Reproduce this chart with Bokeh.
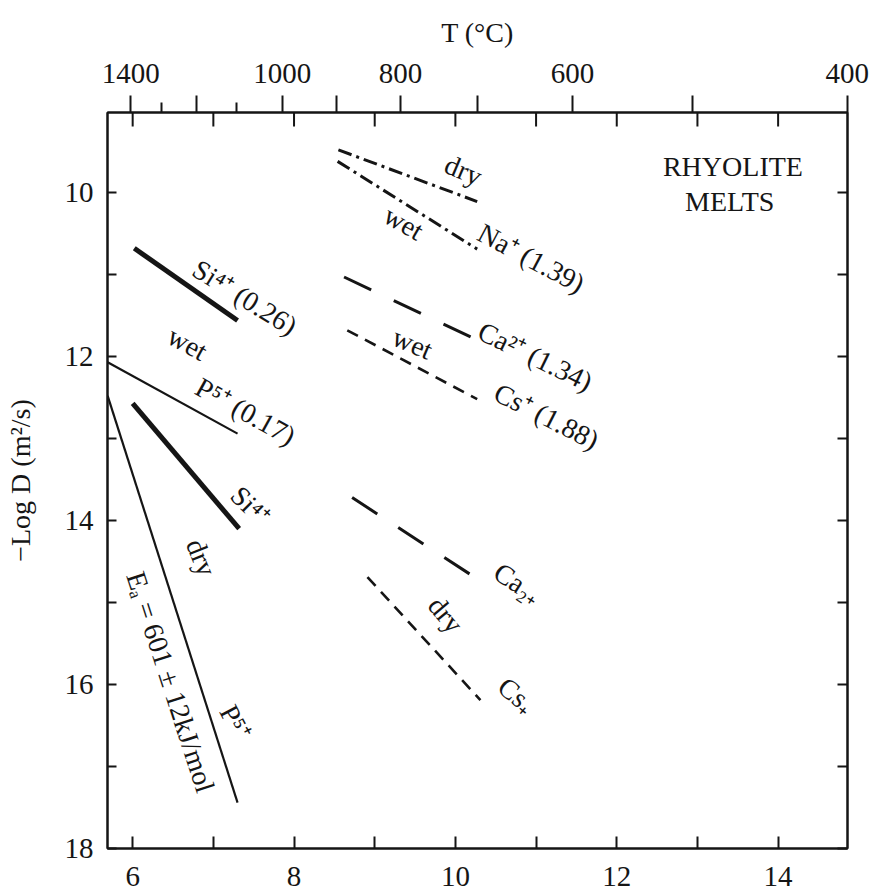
import numpy as np
from bokeh.plotting import figure
from bokeh.models import (Range1d, LinearAxis, FixedTicker, CustomJSTickFormatter,
                          ColumnDataSource, Arrow)
from bokeh.core.properties import value
from bokeh.embed import file_html
from bokeh.resources import INLINE

# ---- axis ticks ----
x_major = [6, 8, 10, 12, 14]          # 10^4/T (K)
x_minor = [7, 9, 11, 13]
x_top_inner = [6, 7, 8, 9, 10, 11, 12, 13, 14]
y_major = [10, 12, 14, 16, 18]        # -Log D (m^2/s)
y_minor = [11, 13, 15, 17]
T_labeled = [1400, 1000, 800, 600, 400]               # degC
T_long = [1400, 1200, 1000, 900, 800, 700, 600, 500, 400]
T_short = [1300, 1100]

# ---- Arrhenius lines (end points, x = 10^4/T, y = -log D) ----
si_wet_x = [6.02, 7.30]; si_wet_y = [10.68, 11.56]
p_wet_x = [5.69, 7.30];  p_wet_y = [12.07, 12.94]
si_dry_x = [6.00, 7.32]; si_dry_y = [12.57, 14.10]
p_dry_x = [5.69, 7.30];  p_dry_y = [12.48, 17.44]
na_dry_x = [8.55, 10.27]; na_dry_y = [9.48, 10.11]
na_wet_x = [8.54, 10.27]; na_wet_y = [9.62, 10.69]
ca_wet_x = [8.62, 10.23]; ca_wet_y = [11.03, 11.78]
cs_wet_x = [8.66, 10.27]; cs_wet_y = [11.68, 12.52]
ca_dry_x = [8.72, 10.33]; ca_dry_y = [13.72, 14.75]
cs_dry_x = [8.91, 10.31]; cs_dry_y = [14.69, 16.19]

# ---- labels ----
label_text = ["dry", "wet", "Na⁺ (1.39)", "Ca²⁺ (1.34)", "wet", "Cs⁺ (1.88)",
              "Si⁴⁺ (0.26)", "wet", "P⁵⁺ (0.17)", "Si⁴⁺", "dry",
              "Eₐ = 601 ± 12kJ/mol", "P⁵⁺", "Ca₂₊", "dry", "Cs₊",
              "RHYOLITE", "MELTS"]
label_x = [10.10, 9.36, 10.94, 10.99, 9.47, 11.13,
           7.39, 6.68, 7.40, 7.46, 6.85,
           6.47, 7.27, 10.77, 9.88, 10.76,
           13.44, 13.40]
label_y = [9.73, 10.37, 10.80, 12.00, 11.84, 12.73,
           11.28, 11.84, 12.67, 13.82, 14.45,
           15.97, 16.46, 14.76, 15.15, 16.13,
           9.68, 10.11]
label_deg = [-23, -30, -28, -26, -23, -27,
             -32, -29, -29, -45, -68,
             -72, -62, -33, -50, -40,
             0, 0]

FONT = "Liberation Serif"
INK = "#151515"

X0, X1 = 5.688, 14.86
Y_BOTTOM, Y_TOP = 18.0, 9.024
W, H = 874, 893
B_LEFT, B_RIGHT, B_TOP, B_BOTTOM = 107, 27, 112, 45

def xT(T):
    return 1e4 / (np.asarray(T, dtype=float) + 273.15)

p = figure(width=W, height=H, output_backend="svg", toolbar_location=None,
           x_range=Range1d(X0, X1), y_range=Range1d(Y_BOTTOM, Y_TOP),
           min_border_left=B_LEFT, min_border_right=B_RIGHT, min_border_top=B_TOP,
           min_border_bottom=B_BOTTOM)
p.background_fill_color = "white"
p.border_fill_color = "white"
p.outline_line_color = INK
p.outline_line_width = 2
p.xgrid.visible = False
p.ygrid.visible = False

def style_axis(ax):
    ax.axis_line_color = INK
    ax.axis_line_width = 2
    ax.major_tick_line_color = INK
    ax.minor_tick_line_color = INK
    ax.major_tick_line_width = 2
    ax.minor_tick_line_width = 2
    ax.major_label_text_font = FONT
    ax.major_label_text_font_size = "29px"
    ax.major_label_text_color = INK
    ax.axis_label_text_font = FONT
    ax.axis_label_text_font_size = "28px"
    ax.axis_label_text_font_style = "normal"
    ax.axis_label_text_color = INK

# bottom axis
xb = p.xaxis[0]
style_axis(xb)
xb.ticker = FixedTicker(ticks=x_major, minor_ticks=x_minor)
xb.major_tick_in = 12; xb.major_tick_out = 0
xb.minor_tick_in = 12; xb.minor_tick_out = 0
xb.major_label_standoff = 18

# left axis
yl = p.yaxis[0]
style_axis(yl)
yl.ticker = FixedTicker(ticks=y_major, minor_ticks=y_minor)
yl.major_tick_in = 9; yl.major_tick_out = 0
yl.minor_tick_in = 9; yl.minor_tick_out = 0
yl.major_label_standoff = 14
yl.axis_label = "−Log D (m²/s)"
yl.axis_label_standoff = 26

# right axis: inward ticks, no labels
yr = LinearAxis(ticker=FixedTicker(ticks=y_major, minor_ticks=y_minor),
                formatter=CustomJSTickFormatter(code='return ""'))
style_axis(yr)
yr.major_tick_in = 10; yr.major_tick_out = 0
yr.minor_tick_in = 10; yr.minor_tick_out = 0
yr.major_label_standoff = 0
yr.major_label_text_font_size = "0px"
p.add_layout(yr, "right")

# top axis: temperature scale (outward ticks)
top_T = LinearAxis(ticker=FixedTicker(ticks=list(xT(T_long)), minor_ticks=list(xT(T_short))),
                   formatter=CustomJSTickFormatter(args=dict(lab=T_labeled), code="""
                       const T = Math.round(1e4 / tick - 273.15);
                       return lab.includes(T) ? String(T) : "";
                   """))
style_axis(top_T)
top_T.major_tick_in = 0; top_T.major_tick_out = 17
top_T.minor_tick_in = 0; top_T.minor_tick_out = 10
top_T.major_label_standoff = 13
top_T.axis_label = "T (°C)"
top_T.axis_label_standoff = 13
p.add_layout(top_T, "above")

# inward ticks hanging from the top frame edge at the 10^4/T integers
frame_h = H - B_TOP - B_BOTTOM
tick_len = 14 * (Y_BOTTOM - Y_TOP) / frame_h
tick_src = ColumnDataSource(dict(x=x_top_inner,
                                 y0=[Y_TOP + 0.005] * len(x_top_inner),
                                 y1=[Y_TOP + tick_len] * len(x_top_inner)))
p.add_layout(Arrow(end=None, start=None, x_start="x", y_start="y0", x_end="x", y_end="y1",
                   source=tick_src, line_color=INK, line_width=2))

# lines
p.line(si_wet_x, si_wet_y, line_color=INK, line_width=5)
p.line(p_wet_x, p_wet_y, line_color=INK, line_width=2.2)
p.line(si_dry_x, si_dry_y, line_color=INK, line_width=5)
p.line(p_dry_x, p_dry_y, line_color=INK, line_width=2.2)
p.line(na_dry_x, na_dry_y, line_color=INK, line_width=3, line_dash="14 5 3 5")
p.line(na_wet_x, na_wet_y, line_color=INK, line_width=3, line_dash="14 5 3 5")
p.line(ca_wet_x, ca_wet_y, line_color=INK, line_width=3, line_dash="30 25")
p.line(cs_wet_x, cs_wet_y, line_color=INK, line_width=2.6, line_dash="12 8")
p.line(ca_dry_x, ca_dry_y, line_color=INK, line_width=3, line_dash="30 25")
p.line(cs_dry_x, cs_dry_y, line_color=INK, line_width=2.6, line_dash="12 8")

src = ColumnDataSource(dict(x=label_x, y=label_y, text=label_text,
                            angle=list(np.radians(label_deg))))
p.text(x="x", y="y", text="text", angle="angle", source=src,
       text_font=value(FONT), text_font_size=value("28px"), text_color=INK,
       text_align="center", text_baseline="middle")

open("out.html", "w").write(file_html(p, INLINE))
